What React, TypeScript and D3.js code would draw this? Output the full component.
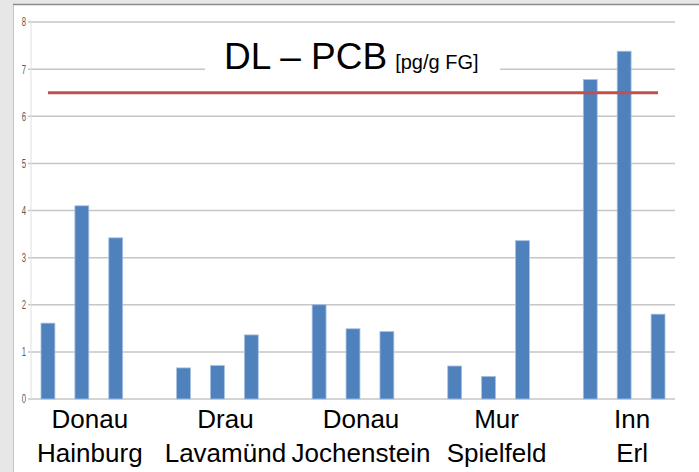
import * as d3 from "d3";

// site groups along the x axis (two label lines each)
const siteRiver = ["Donau", "Drau", "Donau", "Mur", "Inn"];
const siteName = ["Hainburg", "Lavamünd", "Jochenstein", "Spielfeld", "Erl"];

// three measurements per site, pg/g FG
const siteValues = [
  [1.61, 4.1, 3.42],
  [0.66, 0.71, 1.36],
  [2.0, 1.49, 1.43],
  [0.7, 0.48, 3.36],
  [6.78, 7.38, 1.8],
];

const limitValue = 6.5;
const yTicks = [0, 1, 2, 3, 4, 5, 6, 7, 8];

const titleMain = "DL – PCB";
const titleUnit = "[pg/g FG]";

const width = 699;
const height = 472;
const plot = { left: 31, right: 675, top: 22, bottom: 399 };

interface IBar {
  group: number;
  idx: number;
  slot: number;
  value: number;
}

export default function App() {
  const perGroup = siteValues[0].length;
  const slotCount = siteValues.length * (perGroup + 1) - 1;

  const bars: IBar[] = siteValues.flatMap((vals, g) =>
    vals.map((value, i) => ({ group: g, idx: i, slot: g * (perGroup + 1) + i, value })),
  );

  const x = d3
    .scaleBand<number>()
    .domain(d3.range(slotCount))
    .range([plot.left, plot.right])
    .padding(0);

  const barWidth = x.bandwidth() * 0.41;
  const barX = (slot: number) => (x(slot) ?? 0) + (x.bandwidth() - barWidth) / 2;
  const center = (slot: number) => (x(slot) ?? 0) + x.bandwidth() / 2;

  const y = d3.scaleLinear().domain([0, 8]).range([plot.bottom, plot.top]);

  const groupCenter = (g: number) =>
    (center(g * (perGroup + 1)) + center(g * (perGroup + 1) + perGroup - 1)) / 2;

  return (
    <svg
      width={width}
      height={height}
      style={{ position: "absolute", left: 0, top: 0, display: "block" }}
    >
      <rect x={0} y={0} width={width} height={height} fill="#e7e7e7" />
      <rect x={13} y={5} width={width - 13} height={height - 5} fill="#fff" />
      <line x1={13} x2={width} y1={4.5} y2={4.5} stroke="#8a8a8a" strokeWidth={1.5} />
      <line x1={13.5} x2={13.5} y1={5} y2={height} stroke="#c4c4c4" strokeWidth={1} />

      {/* gridlines */}
      <g>
        {yTicks.map((t) => (
          <line
            key={t}
            x1={plot.left - 3}
            x2={plot.right}
            y1={y(t)}
            y2={y(t)}
            stroke="#c6c6c6"
            strokeWidth={1.5}
          />
        ))}
        <line
          x1={plot.left}
          x2={plot.left}
          y1={plot.top}
          y2={plot.bottom}
          stroke="#e0e0e0"
          strokeWidth={1}
        />
      </g>

      {/* y tick labels */}
      <g fontFamily="'Liberation Sans Narrow', 'Liberation Sans', sans-serif" fontSize={11} fill="#5a5a5a">
        {yTicks.map((t) => (
          <text
            key={t}
            x={26}
            y={y(t)}
            dy="0.35em"
            textAnchor="end"
            transform={`translate(26 ${y(t)}) scale(0.7 1.15) translate(-26 ${-y(t)})`}
          >
            {t}
          </text>
        ))}
      </g>

      {/* bars */}
      <g>
        {bars.map((b) => (
          <rect
            key={`${b.group}-${b.idx}`}
            x={barX(b.slot)}
            y={y(b.value)}
            width={barWidth}
            height={y(0) - y(b.value)}
            fill="#4f81bd"
            stroke="#a7c1e2"
            strokeWidth={0.8}
          />
        ))}
      </g>

      {/* title box */}
      <rect x={205} y={40} width={295} height={38} fill="#fff" />
      <text x={224} y={69} fontFamily="'Liberation Sans', Arial, sans-serif" fill="#000">
        <tspan fontSize={37}>{titleMain}</tspan>
        <tspan fontSize={20} dx={8}>
          {titleUnit}
        </tspan>
      </text>

      {/* limit line */}
      <line
        x1={center(0)}
        x2={center(slotCount - 1)}
        y1={y(limitValue)}
        y2={y(limitValue)}
        stroke="#c0504d"
        strokeWidth={3}
      />

      {/* category labels */}
      <g fontFamily="'Liberation Sans', Arial, sans-serif" fontSize={26} fill="#000" textAnchor="middle">
        {siteRiver.map((river, g) => (
          <g key={g}>
            <text x={groupCenter(g) + 8} y={428}>
              {river}
            </text>
            <text x={groupCenter(g) + 8} y={462}>
              {siteName[g]}
            </text>
          </g>
        ))}
      </g>
    </svg>
  );
}
